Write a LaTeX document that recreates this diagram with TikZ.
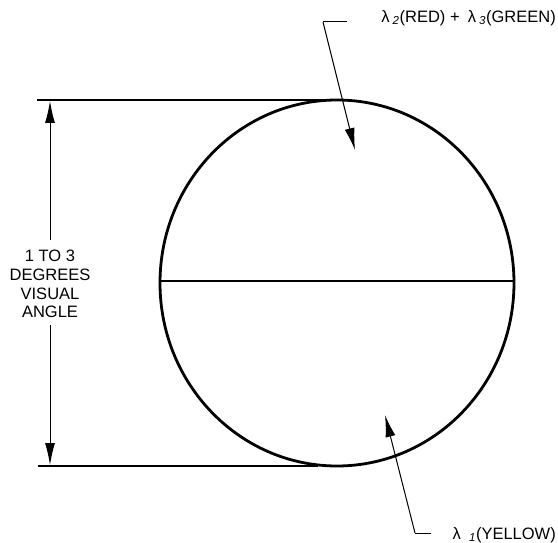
\documentclass[tikz,border=0pt]{standalone}
\usepackage{fontspec}
\setmainfont{Liberation Sans}
\usetikzlibrary{arrows.meta,shapes.geometric}
\begin{document}
\begin{tikzpicture}[x=1pt,y=-1pt,
  lbl/.style={font=\fontsize{16.5}{18.7}\selectfont, inner sep=0pt},
  thin/.style={line width=1pt},
  arr/.style={thin, -{Latex[length=22pt,width=10pt]}}]
\useasboundingbox (0,0) rectangle (558,543);
% circle
\node[draw, line width=2.8pt, ellipse, minimum width=354pt, minimum height=366pt, inner sep=0pt] (c) at (337,283) {};
\coordinate (cl) at (160,281);
\coordinate (cr) at (514,281);
\draw[line width=1.8pt] (cl) -- (cr);
% dimension lines
\coordinate (t0) at (37,100);
\coordinate (t1) at (325,100);
\coordinate (b0) at (38,466);
\coordinate (b1) at (318,466);
\draw[line width=1.3pt] (t0) -- (t1);
\draw[line width=1.3pt] (b0) -- (b1);
\node[lbl, align=center] (ang) at (50,284) {1 TO 3\\DEGREES\\VISUAL\\ANGLE};
\coordinate (at) at (50,101);
\coordinate (ab) at (50,465);
\draw[arr] (ang.north |- 0,240) -- (at);
\draw[arr] (ang.south |- 0,325) -- (ab);
% top label
\node[lbl, anchor=east] (top) at (556,18) {λ\kern3pt\textsubscript{\textit{2}}(RED) +\enspace λ\kern3pt\textsubscript{\textit{3}}(GREEN)};
\coordinate (tc) at (323,22);
\coordinate (te) at (347,22);
\coordinate (tt) at (355,150);
\draw[thin] (te) -- (tc);
\draw[arr] (tc) -- (tt);
% bottom label
\node[lbl, anchor=east] (bot) at (556,535) {λ\enspace\textsubscript{\textit{1}}(YELLOW)};
\coordinate (bc) at (415,533);
\coordinate (be) at (431,533);
\coordinate (bt) at (385,415);
\draw[thin] (be) -- (bc);
\draw[arr] (bc) -- (bt);
\end{tikzpicture}
\end{document}
